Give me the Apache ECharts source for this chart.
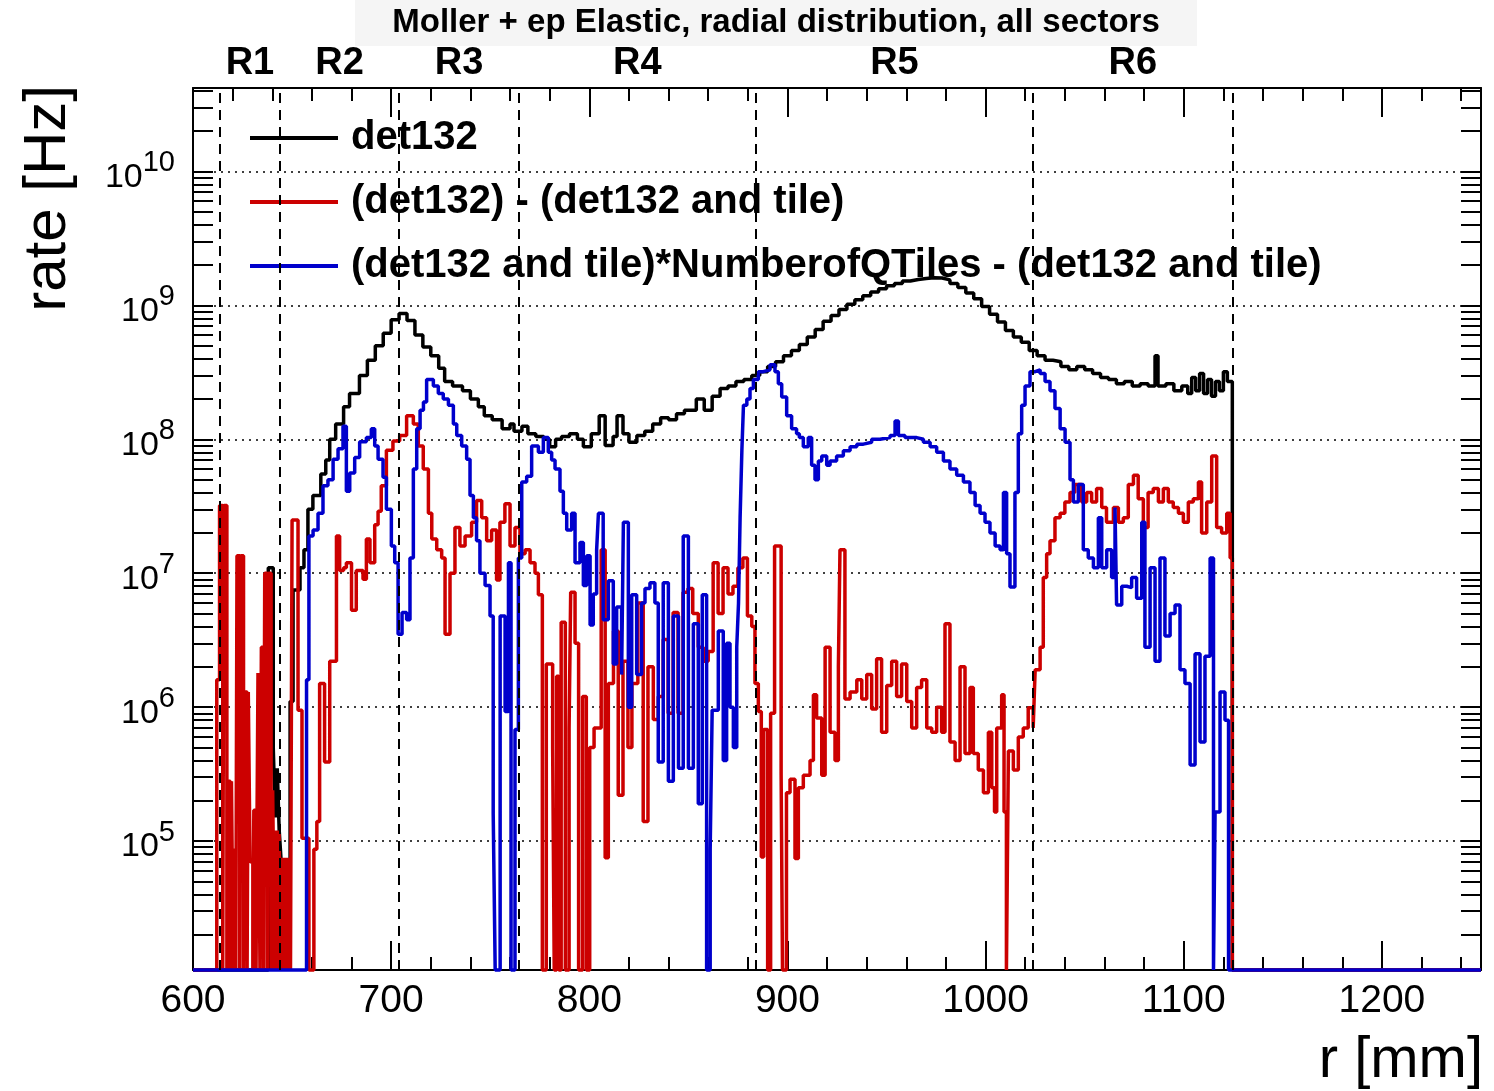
<!DOCTYPE html>
<html>
<head>
<meta charset="utf-8">
<title>Moller + ep Elastic, radial distribution</title>
<script src="https://cdn.jsdelivr.net/npm/echarts@6/dist/echarts.min.js"></script>
<style>
html, body { margin: 0; padding: 0; background: #fff; }
#picture { width: 1494px; height: 1091px; }
</style>
</head>
<body>
<div id="picture"></div>
<script>
var FONT = 'Liberation Sans, Arial, Helvetica, sans-serif';

// axis ranges (r in mm, rate in Hz)
var rMin = 600, rMax = 1250;
var rateMin = 1.09e4, rateMax = 4.2e10;

var names = [
    'det132',
    '(det132) - (det132 and tile)',
    '(det132 and tile)*NumberofQTiles - (det132 and tile)'
];

// ring boundaries (dashed lines) and their labels
var regionEdges = [613.5, 644, 704, 764.5, 884, 1024, 1124.5];
var regionNames = ['R1', 'R2', 'R3', 'R4', 'R5', 'R6'];

var xMajor = [600, 700, 800, 900, 1000, 1100, 1200];
var xMinor = [620, 640, 660, 680, 720, 740, 760, 780, 820, 840, 860, 880, 920, 940, 960, 980,
    1020, 1040, 1060, 1080, 1120, 1140, 1160, 1180, 1220, 1240];
var yDecades = [5, 6, 7, 8, 9, 10];

// histogram contents: [bin low edge (mm), rate (Hz)], 0 = empty bin
var det132 = [
    [600, 0], [638, 1.1e7], [640.5, 5e5], [641.5, 1.5e5], [642.5, 3.5e5], [643.5, 1.2e5],
    [644.5, 7e4], [649, 1.1e6], [650.5, 7.5e6], [654, 1.1e7], [656, 1.5e7], [658, 3e7],
    [660.5, 3.8e7], [664.5, 5.5e7], [667, 7e7], [669, 1e8], [672, 1.3e8], [676, 1.75e8],
    [679, 2.2e8], [684, 3e8], [688, 3.9e8], [692, 5e8], [696, 6.2e8], [700, 7.8e8],
    [704, 8.7e8], [708, 7.7e8], [712, 6e8], [716, 4.9e8], [720, 4.2e8], [724, 3.4e8],
    [727, 2.7e8], [731, 2.5e8], [736, 2.3e8], [740, 2e8], [744, 1.75e8], [747, 1.5e8],
    [751, 1.4e8], [756, 1.2e8], [760, 1.3e8], [762, 1.15e8], [766, 1.25e8], [769, 1.1e8],
    [773, 1.05e8], [777, 1e8], [780, 8.8e7], [783, 1e8], [786, 1.05e8], [790, 1.1e8],
    [794, 1e8], [797, 8.8e7], [801, 1.1e8], [805, 1.5e8], [808, 9e7], [812, 1.05e8],
    [814, 1.5e8], [817, 1.1e8], [820, 9.5e7], [824, 1.07e8], [828, 1.15e8], [832, 1.3e8],
    [836, 1.45e8], [840, 1.4e8], [844, 1.55e8], [848, 1.65e8], [854, 2e8], [858, 1.65e8],
    [862, 2.1e8], [866, 2.4e8], [870, 2.5e8], [874, 2.7e8], [878, 2.8e8], [882, 3e8],
    [886, 3.2e8], [890, 3.5e8], [894, 3.8e8], [898, 4.2e8], [902, 4.6e8], [906, 5.1e8],
    [910, 5.8e8], [914, 6.6e8], [918, 7.6e8], [922, 8.4e8], [926, 9.3e8], [930, 1.02e9],
    [934, 1.1e9], [938, 1.18e9], [942, 1.26e9], [946, 1.33e9], [950, 1.4e9], [954, 1.46e9],
    [958, 1.52e9], [962, 1.56e9], [966, 1.59e9], [970, 1.61e9], [974, 1.6e9], [978, 1.55e9],
    [982, 1.46e9], [986, 1.36e9], [990, 1.24e9], [994, 1.12e9], [998, 9.8e8], [1002, 8.6e8],
    [1006, 7.5e8], [1010, 6.5e8], [1014, 5.8e8], [1018, 5.3e8], [1022, 4.6e8], [1026, 4.2e8],
    [1030, 3.9e8], [1034, 3.8e8], [1038, 3.5e8], [1042, 3.3e8], [1046, 3.5e8], [1050, 3.3e8],
    [1054, 3.1e8], [1058, 2.9e8], [1062, 2.8e8], [1066, 2.6e8], [1070, 2.7e8], [1074, 2.5e8],
    [1078, 2.6e8], [1082, 2.5e8], [1085.5, 4.2e8], [1087, 2.5e8], [1091, 2.6e8], [1095, 2.3e8],
    [1099, 2.5e8], [1102, 2.2e8], [1104, 2.9e8], [1106, 2.3e8], [1108, 3.1e8], [1110, 2.2e8],
    [1112, 2.8e8], [1114, 2.1e8], [1116, 2.7e8], [1118, 2.3e8], [1120, 3.2e8], [1122, 2.7e8],
    [1124.5, 0]
];

var detMinusTile = [
    [600, 0],
    [612, 1.6e6], [613.4, 3.2e7], [615, 0], [615.6, 3.2e7], [617.1, 0],
    [617.7, 2.8e5], [618.8, 0], [619.4, 2.8e5], [620.3, 0], [620.8, 8.8e4], [621.6, 0],
    [622.2, 1.35e7], [623.6, 0], [624.2, 1.35e7], [625.5, 0], [626.1, 1.3e6], [627.3, 0],
    [627.9, 1.3e6], [628.8, 7e4], [630.2, 0], [630.7, 1.7e5], [631.8, 0],
    [632.8, 1.8e6], [633.8, 0], [634.5, 2.8e6], [635.6, 0], [636.2, 1e7], [637.5, 0],
    [638.1, 1e7], [639.4, 0], [640.2, 2.4e5], [641.2, 0], [641.8, 1.2e5], [642.8, 0],
    [643.4, 1.2e5], [644.4, 0], [645, 7.5e4], [646, 0], [646.6, 7.5e4], [647.6, 0],
    [648.2, 7.5e4], [649.2, 0],
    [650, 2.5e7], [653, 9.5e5], [655, 1.05e5], [658.5, 0],
    [661, 8.7e4], [662.5, 1.4e5], [663.9, 1.5e6], [666.4, 3.9e5], [669, 2.2e6],
    [672.4, 1.9e7], [674, 1.05e7], [676, 1.1e7], [677.4, 1.2e7], [680, 5.3e6],
    [682.4, 1.05e7], [685.8, 9e6], [687.5, 1.8e7], [689.3, 1.2e7], [691.7, 2.3e7],
    [693.4, 2.9e7], [695, 4.5e7], [697.6, 8.3e7], [700.9, 9.7e7], [704.3, 1.07e8],
    [707.8, 1.5e8], [711.2, 1.3e8], [713.7, 8.9e7], [716.2, 6e7], [718.8, 2.8e7],
    [720.5, 1.8e7], [723, 1.5e7], [725.5, 1.3e7], [727.2, 3.5e6], [729.7, 1e7],
    [732.2, 2.2e7], [734.7, 1.6e7], [737.3, 1.9e7], [740.6, 2.4e7], [743.1, 3.5e7],
    [745.7, 2.6e7], [748.2, 1.75e7], [750.7, 2.1e7], [753.2, 8.9e6], [754.9, 2.4e7],
    [757.4, 3.3e7], [760, 1.6e7], [762.5, 2.2e7], [765, 1.4e7], [767.6, 1.5e7],
    [770.1, 1.2e7], [772.6, 1e7], [774.3, 6.9e6], [776.3, 0], [778.3, 2.1e6],
    [781.5, 5e5], [782.3, 0], [783.5, 1.7e6], [784.6, 0], [785.8, 4.3e6], [787.9, 0],
    [789.8, 6.9e5], [790.6, 7.2e6], [792.8, 3e6], [794.6, 0], [796.6, 1.2e6], [798.5, 0],
    [800.2, 5e5], [802.4, 7e5], [806, 1.5e7], [808, 7.5e4], [809.6, 1.5e6], [812.2, 3.7e6],
    [814.6, 2.2e5], [817, 2.2e6], [819.5, 5e5], [821.5, 1.5e6], [824.5, 6e6], [827.2, 1.4e5],
    [829.6, 2e6], [832.3, 8.1e5], [834.8, 1.2e6], [837.3, 3.2e6], [839.8, 9e5], [842.3, 5.1e6],
    [844.8, 9e5], [847.3, 7.2e6], [849.8, 7.7e6], [852.2, 5e6], [855, 2.8e6], [857.5, 2.2e6],
    [860, 2.6e6], [862.5, 1.2e7], [865, 5e6], [867.5, 1.1e7], [870, 7e6], [872.5, 8e6],
    [875, 1.1e7], [877.5, 1.3e7], [879.8, 4.8e6], [882, 4e6], [883.6, 1.5e6], [885.3, 9.3e5],
    [886.8, 7.6e4], [888, 6.8e5], [890, 0], [891.5, 9e5], [893.5, 1.6e7], [896.8, 3.2e5],
    [897.5, 0], [899.5, 2.3e5], [901.3, 2.9e5], [903.8, 7.4e4], [905.5, 2.5e5], [908, 3.1e5],
    [911.4, 4e5], [913.1, 1.24e6], [914.7, 8.3e5], [917.3, 3.1e5], [919, 2.8e6], [921.5, 6.5e5],
    [924, 4e5], [925.7, 2e6], [926.5, 1.5e7], [929, 1.15e6], [931.6, 1.3e6], [935, 1.6e6],
    [937.5, 1.15e6], [940, 1.75e6], [942.5, 9.7e5], [945, 2.3e6], [947.5, 6.5e5], [950.1, 1.45e6],
    [952.6, 2.2e6], [955.1, 1.2e6], [957.6, 2.1e6], [960.2, 1.1e6], [962.7, 7e5], [965.2, 1.4e6],
    [967.7, 1.6e6], [970.3, 7e5], [972.8, 6.5e5], [975.3, 1e6], [977.8, 6.5e5], [979.5, 4.2e6],
    [982, 5.5e5], [984.6, 4e5], [987.1, 2e6], [989.6, 4.5e5], [992.1, 1.4e6], [993.8, 4.5e5],
    [996.3, 3.4e5], [998.9, 2.3e5], [1001.4, 6.5e5], [1003.1, 2.5e5], [1004.5, 1.65e5], [1005.6, 7e5],
    [1008.1, 1.24e6], [1009.3, 1.65e5], [1010.5, 0], [1011.5, 4.7e5], [1014, 3.4e5], [1016.5, 6e5],
    [1019, 7e5], [1021.5, 9.9e5], [1024, 7e5], [1025, 1.9e6], [1027.5, 2.8e6], [1029.1, 9.3e6],
    [1030.8, 1.4e7], [1032.5, 1.75e7], [1035, 2.6e7], [1037.6, 2.8e7], [1040, 3.4e7], [1042.6, 4e7],
    [1045, 4.6e7], [1048.5, 3.4e7], [1051, 4e7], [1053.5, 3.4e7], [1056, 4.3e7], [1058.6, 3.1e7],
    [1061, 2.4e7], [1064.5, 3.1e7], [1067, 2.4e7], [1069.5, 2.6e7], [1072, 4.6e7], [1074.6, 5.4e7],
    [1077, 3.6e7], [1079.6, 2.2e7], [1082, 4e7], [1084.6, 4.3e7], [1087.2, 3.4e7], [1089.7, 4.3e7],
    [1092.2, 3.4e7], [1094.7, 3.1e7], [1097.3, 2.8e7], [1099.8, 2.4e7], [1102.3, 3.4e7], [1104.8, 3.6e7],
    [1107.4, 4.8e7], [1109, 2e7], [1111.6, 3.4e7], [1114.1, 7.5e7], [1116.6, 2.2e7], [1119.1, 2e7],
    [1121.7, 2.8e7], [1123.4, 1.3e7], [1124.5, 0]
];

var tileExtra = [
    [600, 0], [657.3, 1.6e6], [658.5, 1.9e7], [660.6, 2.1e7], [663.1, 2.8e7], [665.6, 4.5e7],
    [668.1, 5e7], [670.7, 7.1e7], [673.2, 8.5e7], [675.7, 1.25e8], [677.4, 4.1e7], [679.1, 5.6e7],
    [681.6, 7.3e7], [684.1, 9.6e7], [687.5, 1.03e8], [690, 1.2e8], [691.7, 8.9e7], [693.4, 7.1e7],
    [695.9, 5.2e7], [697.6, 3e7], [700.1, 1.6e7], [701.8, 1.2e7], [703.5, 3.5e6], [705.5, 5.1e6],
    [707.8, 4.5e6], [709.5, 1.3e7], [711.2, 6e7], [712.9, 1.2e8], [714.6, 1.65e8], [716.3, 1.9e8],
    [717.9, 2.8e8], [721.3, 2.5e8], [723.8, 2.2e8], [726.3, 2e8], [728.9, 1.8e8], [731.4, 1.3e8],
    [733.1, 1.07e8], [735.6, 8.9e7], [738.1, 7.1e7], [739.8, 3.8e7], [741.5, 2.6e7], [743.1, 1.75e7],
    [744.8, 1e7], [747.4, 8.1e6], [749.9, 4.8e6], [751.5, 1.6e5], [752.5, 0], [755, 4.8e6],
    [757.5, 9.3e5], [759.2, 1.2e7], [760.5, 0], [762.5, 6.8e5], [764.2, 1.3e7], [765.9, 4.8e7],
    [768.4, 5.3e7], [770.9, 8.9e7], [774.3, 8e7], [776.8, 1.03e8], [779.3, 8e7], [781, 7e7],
    [782.7, 6e7], [785.2, 4.1e7], [786.9, 2.8e7], [788.6, 2.1e7], [791.1, 2.8e7], [792.8, 1.2e7],
    [795.3, 1.7e7], [797, 8.1e6], [798.7, 1.35e7], [800.4, 4.1e6], [802, 7e6], [803.7, 1.5e7],
    [804.6, 2.8e7], [807, 4.5e6], [809.6, 8.8e6], [812.1, 2.1e6], [813.8, 5.6e6], [816.3, 1.75e6],
    [817.2, 2.4e7], [819.7, 1e6], [821.4, 6.9e6], [823.9, 1.75e6], [826.4, 6e6], [828.1, 7.7e6],
    [830.6, 8.5e6], [833.1, 6e6], [834.8, 3.9e5], [837.3, 8.5e6], [839.9, 2.8e5], [842.4, 4.8e6],
    [845, 3.5e5], [847.4, 1.9e7], [850, 3.5e5], [852.5, 4.2e6], [855, 1.9e5], [857, 6.9e6],
    [859.2, 0], [861, 8.7e4], [862, 9.5e5], [865.1, 3.7e6], [867.6, 4e5], [869.3, 3e6],
    [871, 1e6], [872.7, 5e5], [874.4, 2.8e6], [875.3, 6e6], [876.1, 2.6e7], [877, 8.3e7],
    [877.8, 1.8e8], [879.5, 2e8], [881.1, 2.4e8], [882.8, 2.8e8], [885.3, 3.2e8], [887.8, 3.3e8],
    [891.2, 3.6e8], [893.7, 3.2e8], [895.4, 2.6e8], [897.1, 2.07e8], [899.6, 1.5e8], [902.1, 1.2e8],
    [904.6, 1.1e8], [906, 1.03e8], [908, 8.8e7], [910.5, 1.03e8], [912.2, 6.4e7], [913.9, 5e7],
    [915.6, 6.9e7], [917.3, 7.5e7], [919.8, 6.4e7], [921.5, 6.9e7], [924.8, 7.5e7], [928.2, 8.2e7],
    [931.6, 8.8e7], [935, 9.2e7], [938.3, 9.5e7], [942.5, 1e8], [946.7, 1.03e8], [951.8, 1.07e8],
    [954.3, 1.37e8], [956, 1.07e8], [959.3, 1.03e8], [965.2, 1e8], [968.6, 9.5e7], [972, 8.8e7],
    [975.3, 8e7], [978.7, 6.9e7], [982, 6e7], [985.4, 5.4e7], [988.8, 4.8e7], [992.1, 4e7],
    [994.7, 3.2e7], [997.2, 2.8e7], [999.7, 2.4e7], [1002.2, 2e7], [1004.8, 1.6e7], [1007.3, 1.5e7],
    [1009, 4e7], [1010.6, 1.4e7], [1012.3, 7.9e6], [1014.8, 4e7], [1016.5, 1.1e8], [1018.2, 1.8e8],
    [1019.9, 2.5e8], [1022.4, 3.2e8], [1025, 3.3e8], [1027.5, 3.1e8], [1030, 2.7e8], [1032.5, 2.3e8],
    [1035, 1.7e8], [1037.6, 1.2e8], [1040.1, 9.5e7], [1042.6, 5e7], [1044.3, 3.4e7], [1046.8, 4.6e7],
    [1049.3, 1.5e7], [1051.8, 1.3e7], [1054.4, 1.1e7], [1056.9, 2.6e7], [1058.6, 1.1e7], [1061.1, 1.5e7],
    [1063.6, 9.3e6], [1065.3, 3.1e7], [1066.1, 5.8e6], [1068.7, 8e6], [1071.2, 7.8e6], [1073.7, 9.3e6],
    [1076.2, 6.5e6], [1078.8, 2.4e7], [1080.4, 2.8e6], [1083, 1.1e7], [1085.5, 2.2e6], [1088, 1.3e7],
    [1090.5, 3.4e6], [1093.1, 5e6], [1095.6, 5.8e6], [1098.1, 1.9e6], [1100.6, 1.5e6], [1103.2, 3.7e5],
    [1105.7, 2.5e6], [1108.2, 5.5e5], [1110.7, 2.4e6], [1113.3, 1.3e7], [1115, 0], [1115.8, 1.65e5],
    [1118.3, 1.3e6], [1120.8, 8e5], [1122.6, 0]
];

// rate axis is drawn in decades (log10), empty bins sit on the frame like ROOT does
var yLogMin = Math.log10(rateMin);
var yLogMax = Math.log10(rateMax);

function toSteps(pairs) {
    var pts = pairs.map(function (p) {
        return [p[0], p[1] > 0 ? Math.log10(p[1]) : yLogMin];
    });
    pts.push([rMax, yLogMin]);
    return pts;
}

var yMinor = [];
for (var e = 4; e <= 10; e++) {
    for (var k = 2; k <= 9; k++) {
        var lv = e + Math.log10(k);
        if (lv > yLogMin && lv < yLogMax) yMinor.push(lv);
    }
}
var yAll = yMinor.concat(yDecades);

var black = '#000000';
var tickStyle = { color: black, width: 2 };

function xAxisDef(pos, ticks, len, main) {
    return {
        type: 'value', position: pos, min: rMin, max: rMax,
        axisLine: { show: main, onZero: false, lineStyle: { color: black, width: 2 } },
        axisTick: { show: true, inside: true, length: len, customValues: ticks, lineStyle: tickStyle },
        axisLabel: { show: false },
        splitLine: { show: false }
    };
}
function yAxisDef(pos, ticks, main) {
    return {
        type: 'value', position: pos, min: yLogMin, max: yLogMax,
        axisLine: { show: main, onZero: false, lineStyle: { color: black, width: 2 } },
        axisTick: { show: true, inside: true, length: 20, customValues: ticks, lineStyle: tickStyle },
        axisLabel: { show: false },
        splitLine: { show: false }
    };
}

var xAxes = [
    xAxisDef('bottom', xMajor, 29, true),
    xAxisDef('bottom', xMinor, 13, false),
    xAxisDef('top', xMajor, 29, true),
    xAxisDef('top', xMinor, 13, false)
];
xAxes[0].axisLabel = {
    show: true, customValues: xMajor, margin: 12,
    formatter: function (v) { return String(Math.round(v)); },
    fontSize: 39, fontFamily: FONT, color: black
};

var yAxes = [
    yAxisDef('left', yDecades, true),
    yAxisDef('left', yMinor, false),
    yAxisDef('right', yAll, true)
];
yAxes[0].axisLabel = {
    show: true, customValues: yDecades, margin: 18,
    formatter: function (v) { return '{b|10}{s|' + Math.round(v) + '}'; },
    rich: {
        b: { fontSize: 34, fontFamily: FONT, color: black, verticalAlign: 'bottom' },
        s: { fontSize: 29, fontFamily: FONT, color: black, verticalAlign: 'bottom', padding: [0, 0, 17, 0] }
    }
};
yAxes[0].splitLine = { show: true, lineStyle: { color: black, width: 1.5, type: [2, 5] } };

function histSeries(idx, pairs, color, z) {
    return {
        name: names[idx], type: 'line', step: 'end',
        data: toSteps(pairs),
        xAxisIndex: 0, yAxisIndex: 0,
        showSymbol: false, symbol: 'none', clip: false,
        lineStyle: { color: color, width: 3.5 },
        itemStyle: { color: color },
        emphasis: { disabled: true },
        z: z
    };
}

var seriesList = [
    histSeries(0, det132, '#000000', 2),
    histSeries(1, detMinusTile, '#cc0000', 3),
    histSeries(2, tileExtra, '#0000cc', 4)
];
seriesList[2].markLine = {
    silent: true, symbol: ['none', 'none'],
    label: { show: false },
    lineStyle: { color: black, width: 2, type: [10, 7] },
    data: regionEdges.map(function (r) { return { xAxis: r }; })
};

var myChart = echarts.init(document.getElementById('picture'), null, { renderer: 'canvas' });

var option = {
    animation: false,
    backgroundColor: '#ffffff',
    grid: { left: 193, right: 13, top: 88, bottom: 121 },
    legend: {
        data: names, orient: 'vertical', left: 245, top: 110,
        icon: 'rect', itemWidth: 88, itemHeight: 4, itemGap: 18,
        selectedMode: false,
        textStyle: { fontSize: 40, fontWeight: 'bold', fontFamily: FONT, color: black,
            lineHeight: 46, padding: [0, 0, 0, 8] }
    },
    xAxis: xAxes,
    yAxis: yAxes,
    series: seriesList,
    graphic: [
        { type: 'rect', id: 'titlebox', z: 0, shape: { x: 355, y: 0, width: 842, height: 46 },
          style: { fill: '#f5f5f5' } },
        { type: 'text', id: 'title', z: 1, x: 776, y: 23,
          style: { text: 'Moller + ep Elastic, radial distribution, all sectors',
            font: 'bold 33px ' + FONT, fill: black,
            align: 'center', textAlign: 'center', verticalAlign: 'middle', textVerticalAlign: 'middle' } },
        { type: 'text', id: 'ytitle', z: 1, x: 48, y: 85, rotation: Math.PI / 2,
          style: { text: 'rate [Hz]', font: '60px ' + FONT, fill: black,
            align: 'right', textAlign: 'right', verticalAlign: 'middle', textVerticalAlign: 'middle' } },
        { type: 'text', id: 'xtitle', z: 1, x: 1483, y: 1061,
          style: { text: 'r [mm]', font: '58px ' + FONT, fill: black,
            align: 'right', textAlign: 'right', verticalAlign: 'middle', textVerticalAlign: 'middle' } }
    ]
};

if (option && typeof option === 'object') {
    myChart.setOption(option, true);
}

// ring labels centred between the dashed boundaries
var ringLabels = regionNames.map(function (name, i) {
    var mid = (regionEdges[i] + regionEdges[i + 1]) / 2;
    var px = myChart.convertToPixel({ xAxisIndex: 0 }, mid);
    return {
        type: 'text', id: 'ring' + i, z: 1, x: px, y: 64,
        style: { text: name, font: 'bold 38px ' + FONT, fill: black,
            align: 'center', textAlign: 'center', verticalAlign: 'middle', textVerticalAlign: 'middle' }
    };
});
myChart.setOption({ graphic: ringLabels });
</script>
</body>
</html>
